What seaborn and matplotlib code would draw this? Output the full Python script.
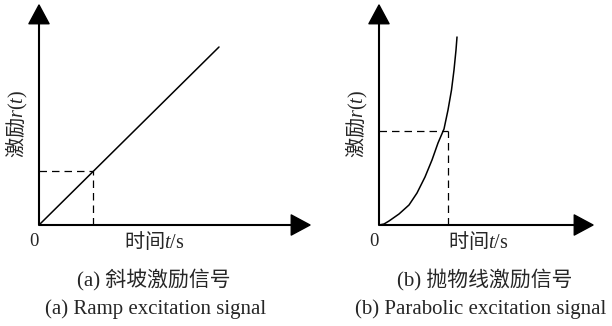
import matplotlib
matplotlib.use("Agg")
import matplotlib.pyplot as plt
import seaborn as sns
import pandas as pd

# ramp signal (a)
ramp_t = [0, 180]
ramp_r = [0, 178]
ramp_mark = (54, 54)

# parabolic signal (b)
para_t = [0, 5, 10, 20, 30, 38, 46, 53, 59, 65, 69, 72.5, 75, 77, 78]
para_r = [0, 1, 4, 11, 20, 32, 48, 65, 82, 96, 115, 135, 155, 175, 188]
para_mark = (69, 94)

xlabel = r"时间$t\mathrm{/s}$"
ylabel = r"激励$\mathit{r(t)}$"
captions_cn = ["(a) 斜坡激励信号", "(b) 抛物线激励信号"]
captions_en = ["(a) Ramp excitation signal", "(b) Parabolic excitation signal"]

sns.set_style("white")
plt.rcParams["font.family"] = ["Liberation Serif", "Noto Sans CJK SC"]
plt.rcParams["mathtext.fontset"] = "custom"
plt.rcParams["mathtext.rm"] = "Liberation Serif"
plt.rcParams["mathtext.it"] = "Liberation Serif:italic"

W, H = 612, 326
FS = 14.5
CJK = "Noto Sans CJK SC"
fig = plt.figure(figsize=(W / 100, H / 100), dpi=100)


def panel(ox, tip_x, t, r, mark, cap_cn, cap_en, cx_cn, cx_en, ylab_x, xlab_x):
    width = tip_x - ox
    ax = fig.add_axes([ox / W, (H - 225) / H, width / W, 220 / H])
    ax.set_xlim(0, width)
    ax.set_ylim(0, 220)
    ax.axis("off")

    df = pd.DataFrame({"t": t, "r": r})
    sns.lineplot(data=df, x="t", y="r", ax=ax, color="black", lw=1.1,
                 sort=False, estimator=None)
    ax.plot([0, mark[0]], [mark[1], mark[1]], color="black", lw=0.9, dashes=(6, 4))
    ax.plot([mark[0], mark[0]], [0, mark[1]], color="black", lw=0.9, dashes=(6, 4))

    arrow = dict(facecolor="black", edgecolor="black", width=0.5,
                 headwidth=14.5, headlength=13.5, shrink=0)
    ax.annotate("", xy=(1, 0), xytext=(0, 0), xycoords="axes fraction", arrowprops=arrow)
    ax.annotate("", xy=(0, 1), xytext=(0, 0), xycoords="axes fraction", arrowprops=arrow)

    fig.text((ox - 5) / W, 1 - 242 / H, "0", ha="center", va="center", fontsize=13.5)
    fig.text(xlab_x / W, 1 - 242 / H, xlabel, ha="center", va="center",
             fontsize=FS, family=CJK)
    fig.text(ylab_x / W, 1 - 124 / H, ylabel, ha="center", va="center",
             rotation=90, fontsize=FS, family=CJK)
    fig.text(cx_cn / W, 1 - 280 / H, cap_cn, ha="center", va="center", fontsize=15)
    fig.text(cx_en / W, 1 - 309 / H, cap_en, ha="center", va="center", fontsize=15)
    return ax


panel(39, 310, ramp_t, ramp_r, ramp_mark, captions_cn[0], captions_en[0],
      154, 156, 17, 154)
panel(379, 593, para_t, para_r, para_mark, captions_cn[1], captions_en[1],
      485, 481, 357, 478)

fig.savefig("out.png", dpi=100)
